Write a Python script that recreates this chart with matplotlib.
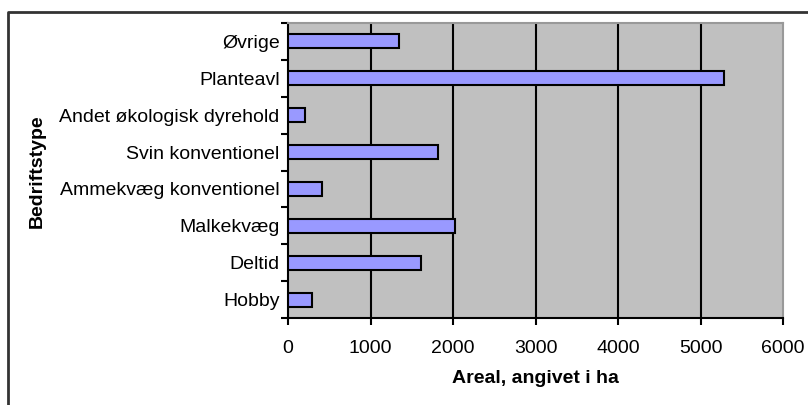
import matplotlib
matplotlib.use("Agg")
import matplotlib.pyplot as plt
from matplotlib.lines import Line2D

plt.rcParams['font.family'] = ['Liberation Sans', 'DejaVu Sans']

# data, bottom to top
categories = ["Hobby", "Deltid", "Malkekvæg", "Ammekvæg konventionel",
              "Svin konventionel", "Andet økologisk dyrehold", "Planteavl", "Øvrige"]
areal = [292, 1608, 2020, 417, 1822, 200, 5280, 1340]
xticks = [0, 1000, 2000, 3000, 4000, 5000, 6000]

fs = 14

fig = plt.figure(figsize=(8.08, 4.05), dpi=100)
ax = fig.add_axes([288/808, 1-318/405, (783-288)/808, (318-23)/405])

ax.set_facecolor('#c0c0c0')
pos = list(range(len(categories)))
ax.barh(pos, areal, height=0.38, color='#9999ff', edgecolor='black', linewidth=1.5, zorder=3)

ax.set_xlim(0, 6000)
ax.set_ylim(-0.5, len(categories) - 0.5)
ax.set_xticks(xticks)
ax.set_xticklabels([str(t) for t in xticks], fontsize=fs)
for t in xticks[1:-1]:
    ax.axvline(t, color='black', lw=1.5, zorder=2)

# ticks at boundaries, labels at centers
ax.set_yticks([p - 0.5 for p in pos] + [len(categories) - 0.5])
ax.set_yticklabels([])
ax.set_yticks(pos, minor=True)
ax.set_yticklabels(categories, minor=True, fontsize=fs)
ax.tick_params(axis='y', which='minor', length=0, pad=6)
ax.tick_params(axis='y', which='major', length=5, width=1.5, direction='out')
ax.tick_params(axis='x', length=5, width=1.5, direction='out', pad=11)

ax.spines['left'].set_linewidth(1.5)
ax.spines['bottom'].set_linewidth(1.5)
ax.spines['top'].set_color('#999999')
ax.spines['right'].set_color('#999999')
ax.spines['top'].set_linewidth(1.5)
ax.spines['right'].set_linewidth(1.5)

ax.set_xlabel("Areal, angivet i ha", fontsize=fs, fontweight='bold', labelpad=9)
fig.text(37/808, 1-171/405, "Bedriftstype", rotation=90, fontsize=fs,
         fontweight='bold', ha='center', va='center')

# outer frame (top and left visible)
fig.add_artist(Line2D([7.5/808, 7.5/808, 1.0], [0.0, 1-12/405, 1-12/405],
                      transform=fig.transFigure, color='#333333', lw=2))

fig.savefig("out.png", dpi=100)
